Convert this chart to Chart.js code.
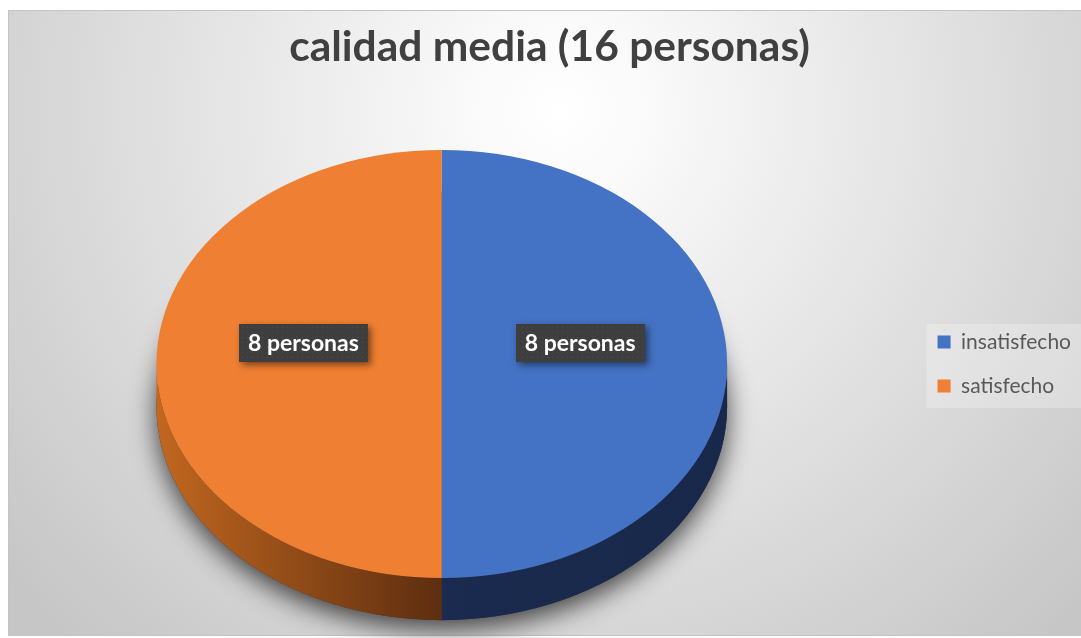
<!DOCTYPE html>
<html>
<head>
<meta charset="utf-8">
<script src="https://cdn.jsdelivr.net/npm/chart.js@4.4.0/dist/chart.umd.min.js"></script>
<style>
  html, body { margin: 0; padding: 0; background: #ffffff; }
  #wrap { width: 1081px; height: 638px; position: relative; }
</style>
</head>
<body>
<div id="wrap"><canvas id="c"></canvas></div>
<script>
// ---- data ----
const titleText = 'calidad media (16 personas)';
const categories = ['insatisfecho', 'satisfecho'];
const values = [8, 8];
const unitLabel = 'personas';

// ---- styles ----
const topColors = ['#4472C4', '#EF7F32'];
const sideStops = [['#1b2b4f', '#18284a'], ['#c2671f', '#5d2e10']];
const FONT = 'Lato, "Open Sans", sans-serif';
const TILT_STRETCH = 4 / 3;     // horizontal stretch of the tilted pie
const DEPTH_RATIO = 0.197;      // pie thickness relative to vertical radius
const LABEL_RATIO = 0.485;      // label distance relative to radius
const FRAME = { left: 8, top: 10, right: 1091, bottom: 635 };

const frameBg = {
  id: 'frameBg',
  beforeDraw(chart) {
    const ctx = chart.ctx;
    ctx.save();
    ctx.fillStyle = '#ffffff';
    ctx.fillRect(0, 0, chart.width, chart.height);
    const gx = 560, gy = 110;
    const g = ctx.createRadialGradient(gx, gy, 0, gx, gy, 720);
    g.addColorStop(0, '#ffffff');
    g.addColorStop(0.12, '#fafafa');
    g.addColorStop(1, '#c6c6c6');
    ctx.fillStyle = g;
    ctx.fillRect(FRAME.left, FRAME.top, FRAME.right - FRAME.left, FRAME.bottom - FRAME.top);
    ctx.strokeStyle = '#c4c4c4';
    ctx.lineWidth = 1;
    ctx.strokeRect(FRAME.left + 0.5, FRAME.top + 0.5, FRAME.right - FRAME.left, FRAME.bottom - FRAME.top);
    // legend panel
    const lg = chart.legend;
    if (lg) {
      const ca = chart.chartArea;
      const midY = (ca.top + ca.bottom) / 2 + 2;
      const h = lg.columnSizes ? lg.columnSizes[0].height - 4 : 86;
      ctx.fillStyle = 'rgba(255,255,255,0.25)';
      ctx.fillRect(lg.left + 12, midY - h / 2, chart.width - lg.left - 12, h);
    }
    ctx.restore();
  },
  afterLayout(chart) {
    // centre the title in the chart frame
    const tb = chart.titleBlock;
    if (tb) {
      tb.left = FRAME.left;
      tb.right = FRAME.right;
      tb.width = FRAME.right - FRAME.left;
    }
    // right-align the legend to the canvas edge
    const lg = chart.legend;
    if (lg) {
      lg.left = chart.width - lg.width;
      lg.right = chart.width;
    }
  }
};

function darkPattern(ctx) {
  const p = document.createElement('canvas');
  p.width = 5; p.height = 5;
  const pc = p.getContext('2d');
  pc.fillStyle = '#3e3e3e';
  pc.fillRect(0, 0, 5, 5);
  pc.fillStyle = '#4b4b4b';
  pc.fillRect(2, 2, 1, 1);
  return ctx.createPattern(p, 'repeat');
}

const pie3d = {
  id: 'pie3d',
  beforeDatasetsDraw(chart) {
    const ctx = chart.ctx;
    const meta = chart.getDatasetMeta(0);
    if (!meta.data.length) return;
    const a0 = meta.data[0];
    const cx = a0.x, cy = a0.y, R = a0.outerRadius;
    const D = R * DEPTH_RATIO;
    ctx.save();
    ctx.translate(cx, 0);
    ctx.scale(TILT_STRETCH, 1);
    ctx.translate(-cx, 0);
    // shadow caster (bottom disc)
    ctx.save();
    ctx.shadowColor = 'rgba(0,0,0,0.7)';
    ctx.shadowBlur = 26;
    ctx.shadowOffsetY = 9;
    ctx.fillStyle = '#333';
    ctx.beginPath();
    ctx.arc(cx, cy + D, R, 0, Math.PI * 2);
    ctx.fill();
    ctx.restore();
    // side walls (front half only)
    meta.data.forEach((arc, i) => {
      let s = arc.startAngle, e = arc.endAngle;
      const segs = [];
      for (let k = -1; k <= 1; k++) {
        const a = Math.max(s + k * 2 * Math.PI, 0);
        const b = Math.min(e + k * 2 * Math.PI, Math.PI);
        if (b > a) segs.push([a, b]);
      }
      segs.forEach(([a, b]) => {
        const xa = cx + Math.cos(a) * R, xb = cx + Math.cos(b) * R;
        const g = ctx.createLinearGradient(Math.min(xa, xb), 0, Math.max(xa, xb), 0);
        g.addColorStop(0, sideStops[i][0]);
        g.addColorStop(1, sideStops[i][1]);
        ctx.fillStyle = g;
        ctx.beginPath();
        ctx.arc(cx, cy, R, a, b);
        ctx.arc(cx, cy + D, R, b, a, true);
        ctx.closePath();
        ctx.fill();
      });
    });
  },
  afterDatasetsDraw(chart) {
    const ctx = chart.ctx;
    ctx.restore();
    const meta = chart.getDatasetMeta(0);
    if (!meta.data.length) return;
    const pat = darkPattern(ctx);
    meta.data.forEach((arc, i) => {
      const cx = arc.x, cy = arc.y, R = arc.outerRadius;
      const D = R * DEPTH_RATIO;
      const mid = (arc.startAngle + arc.endAngle) / 2;
      const x = cx + Math.cos(mid) * R * LABEL_RATIO * TILT_STRETCH;
      const y = cy + Math.sin(mid) * R * LABEL_RATIO - D / 2;
      const text = chart.data.datasets[0].data[i] + ' ' + unitLabel;
      ctx.save();
      ctx.font = 'bold 23px ' + FONT;
      const tw = ctx.measureText(text).width;
      const bw = tw + 18, bh = 38;
      ctx.shadowColor = 'rgba(0,0,0,0.5)';
      ctx.shadowBlur = 7;
      ctx.shadowOffsetX = 3;
      ctx.shadowOffsetY = 3;
      ctx.fillStyle = pat;
      ctx.fillRect(Math.round(x - bw / 2), Math.round(y - bh / 2), Math.round(bw), bh);
      ctx.shadowColor = 'transparent';
      ctx.fillStyle = '#ffffff';
      ctx.textAlign = 'center';
      ctx.textBaseline = 'middle';
      ctx.fillText(text, x, y + 1);
      ctx.restore();
    });
  }
};

new Chart(document.getElementById('c'), {
  type: 'pie',
  data: {
    labels: categories,
    datasets: [{
      data: values,
      backgroundColor: topColors,
      borderWidth: 0,
      hoverOffset: 0,
      offset: 0,
      clip: false
    }]
  },
  options: {
    responsive: true,
    maintainAspectRatio: false,
    devicePixelRatio: 1,
    animation: false,
    events: [],
    layout: { padding: { left: 0, right: 31, top: 10, bottom: 60 } },
    plugins: {
      tooltip: { enabled: false },
      title: {
        display: true,
        text: titleText,
        color: '#404040',
        font: { family: FONT, size: 42.5, weight: 'bold', lineHeight: 1.2 },
        padding: { top: 11.5, bottom: 77.5 }
      },
      legend: {
        display: true,
        position: 'right',
        fullSize: false,
        align: 'center',
        labels: {
          color: '#595959',
          font: { family: FONT, size: 21 },
          boxWidth: 13,
          boxHeight: 13,
          padding: 23
        }
      }
    }
  },
  plugins: [frameBg, pie3d]
});
</script>
</body>
</html>
